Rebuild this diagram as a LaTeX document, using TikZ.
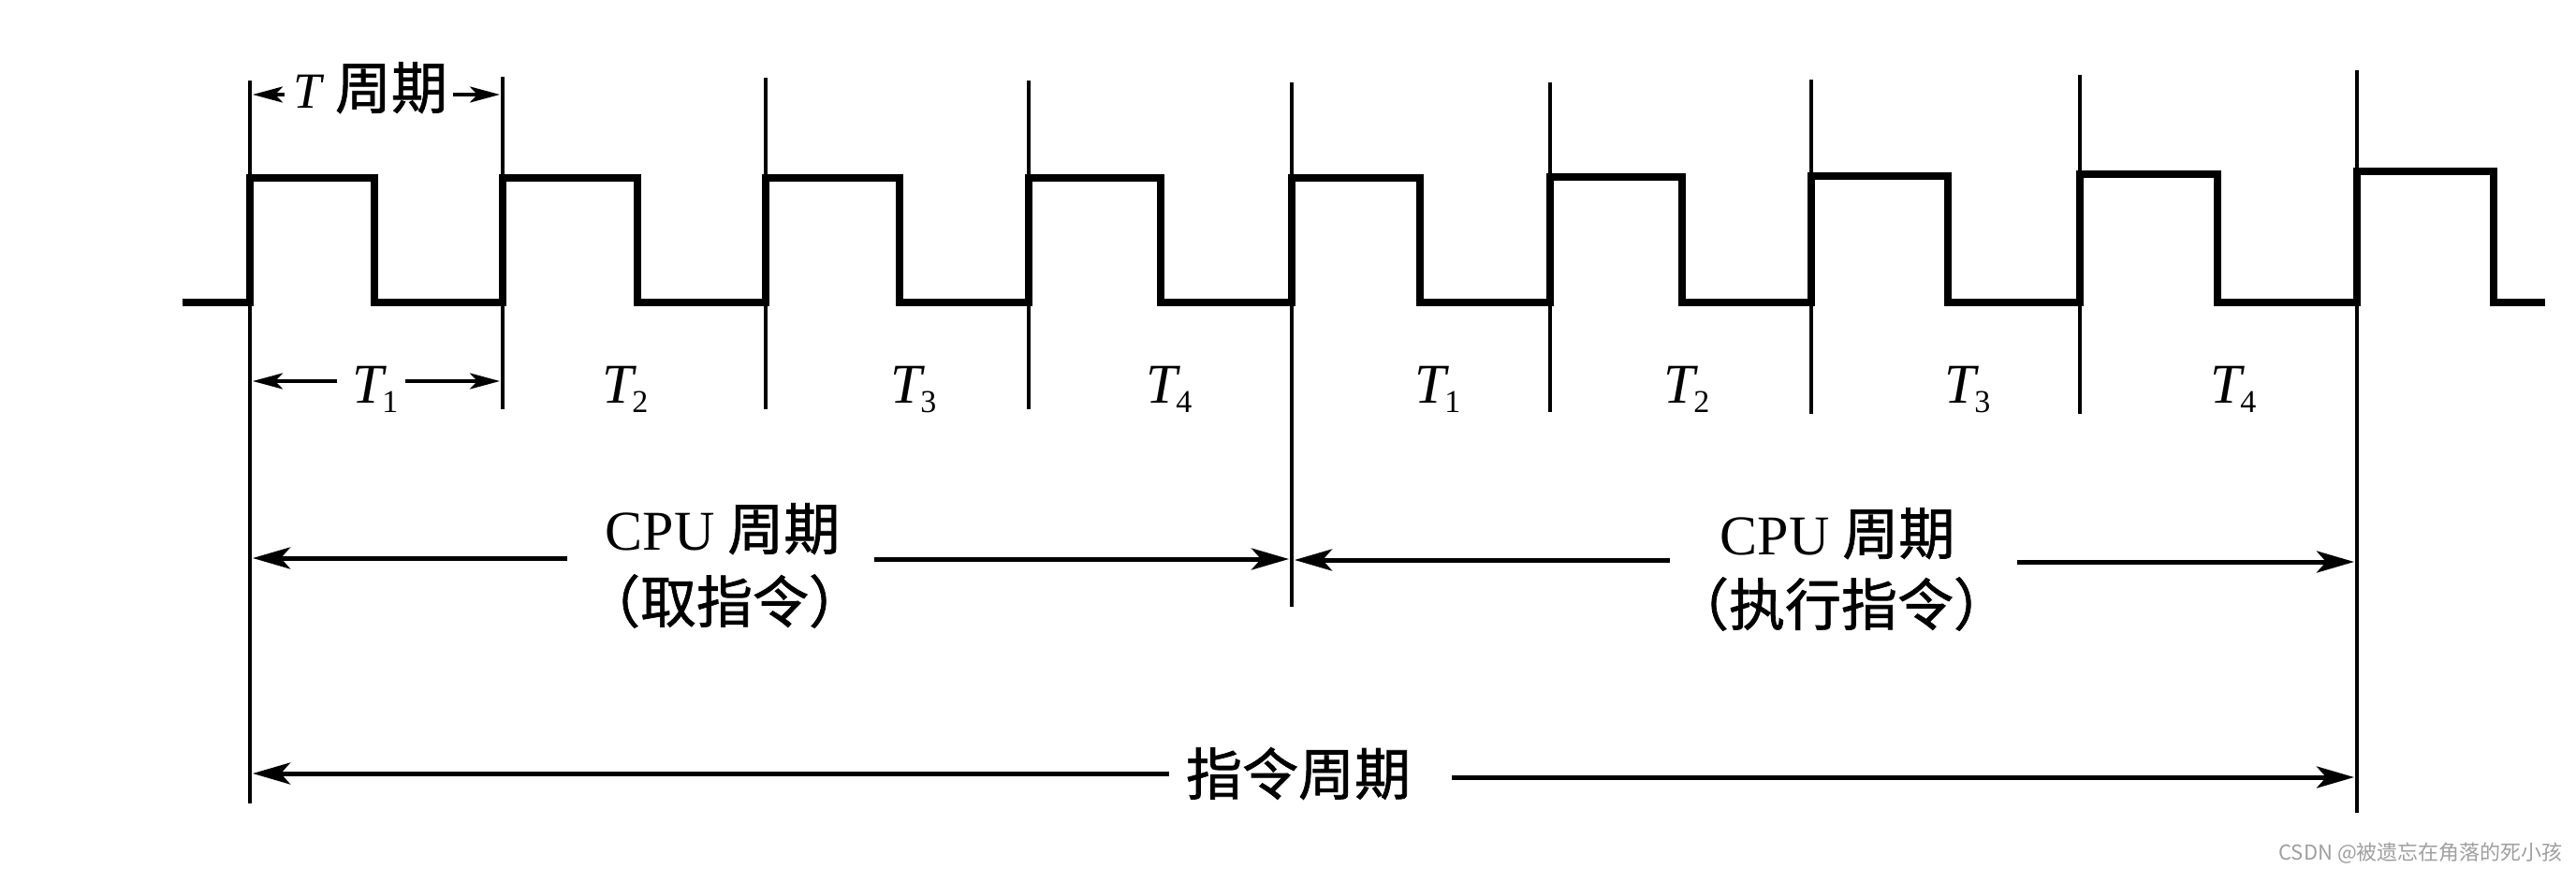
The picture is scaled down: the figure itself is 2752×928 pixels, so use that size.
\documentclass[tikz,border=0pt]{standalone}
\usepackage{fontspec}
\setmainfont{Liberation Serif}
\newfontfamily\cjk[FakeBold=1.2]{Noto Sans CJK SC}
\newfontfamily\wmfont{Noto Sans CJK SC}
\usetikzlibrary{arrows.meta}
\newcommand\Tsub[1]{\textit{T}\kern-5pt\raisebox{-10pt}{\fontsize{34}{36}\selectfont #1}}
\tikzset{
  wave/.style={line width=8pt, line join=miter},
  tickline/.style={line width=3.5pt},
  dimarrow/.style={line width=5pt, -{Stealth[length=40pt,width=23pt,inset=10pt]}},
  smallarrow/.style={line width=4pt, -{Stealth[length=32pt,width=17pt,inset=8pt]}},
  lbl/.style={inner sep=0pt, font=\fontsize{60}{72}\selectfont},
  tlbl/.style={lbl, anchor=base},
}
\begin{document}
\begin{tikzpicture}[x=1pt,y=-1pt]
\useasboundingbox (0,0) rectangle (2752,928);
\fill[white] (0,0) rectangle (2752,928);

% vertical reference lines
\coordinate (L0t) at (267,86);   \coordinate (L0b) at (267,858);
\coordinate (L1t) at (537,82);   \coordinate (L1b) at (537,437);
\coordinate (L2t) at (818,83);   \coordinate (L2b) at (818,437);
\coordinate (L3t) at (1099,86);  \coordinate (L3b) at (1099,437);
\coordinate (L4t) at (1380,88);  \coordinate (L4b) at (1380,648);
\coordinate (L5t) at (1656,88);  \coordinate (L5b) at (1656,440);
\coordinate (L6t) at (1935,85);  \coordinate (L6b) at (1935,442);
\coordinate (L7t) at (2222,80);  \coordinate (L7b) at (2222,442);
\coordinate (L8t) at (2518,75);  \coordinate (L8b) at (2518,868);
\foreach \i in {0,...,8} { \draw[tickline] (L\i t) -- (L\i b); }

% clock waveform
\draw[wave] (195,323) -- (267,323) -- (267,190) -- (400,190) -- (400,323)
  -- (537,323) -- (537,190) -- (681,190) -- (681,323)
  -- (818,323) -- (818,190) -- (961,190) -- (961,323)
  -- (1099,323) -- (1099,190) -- (1240,190) -- (1240,323)
  -- (1380,323) -- (1380,190) -- (1517,190) -- (1517,323)
  -- (1656,323) -- (1656,189) -- (1797,189) -- (1797,323)
  -- (1935,323) -- (1935,188) -- (2081,188) -- (2081,323)
  -- (2222,323) -- (2222,186) -- (2369,186) -- (2369,323)
  -- (2518,323) -- (2518,183) -- (2664,183) -- (2664,323) -- (2719,323);

% T period label
\node[tlbl] (tper) at (396,116) {{\fontsize{54}{58}\selectfont\itshape T}\hspace{14pt}{\cjk 周期}};
\coordinate (tpa) at (304,101); \coordinate (tpb) at (270,101);
\coordinate (tpc) at (484,101); \coordinate (tpd) at (534,101);
\draw[smallarrow] (tpa) -- (tpb);
\draw[smallarrow] (tpc) -- (tpd);

% T1 with arrows
\node[tlbl] (ta1) at (401,430) {\Tsub{1}};
\coordinate (t1a) at (360,407); \coordinate (t1b) at (270,407);
\coordinate (t1c) at (433,407); \coordinate (t1d) at (534,407);
\draw[smallarrow] (t1a) -- (t1b);
\draw[smallarrow] (t1c) -- (t1d);

\node[tlbl] (ta2) at (668,430) {\Tsub{2}};
\node[tlbl] (ta3) at (976,430) {\Tsub{3}};
\node[tlbl] (ta4) at (1249,430) {\Tsub{4}};
\node[tlbl] (tb1) at (1536,430) {\Tsub{1}};
\node[tlbl] (tb2) at (1802,430) {\Tsub{2}};
\node[tlbl] (tb3) at (2102,430) {\Tsub{3}};
\node[tlbl] (tb4) at (2386,430) {\Tsub{4}};

% CPU cycle 1
\node[tlbl] (cpu1) at (772,587) {CPU\hspace{14pt}{\cjk 周期}};
\node[lbl] (cpu1b) at (774,642) {\cjk （取指令）};
\coordinate (c1a) at (606,596); \coordinate (c1b) at (270,596);
\coordinate (c1c) at (934,597); \coordinate (c1d) at (1377,597);
\draw[dimarrow] (c1a) -- (c1b);
\draw[dimarrow] (c1c) -- (c1d);

% CPU cycle 2
\node[tlbl] (cpu2) at (1963,592) {CPU\hspace{14pt}{\cjk 周期}};
\node[lbl] (cpu2b) at (1967,645) {\cjk （执行指令）};
\coordinate (c2a) at (1784,598); \coordinate (c2b) at (1383,598);
\coordinate (c2c) at (2155,600); \coordinate (c2d) at (2515,600);
\draw[dimarrow] (c2a) -- (c2b);
\draw[dimarrow] (c2c) -- (c2d);

% instruction cycle
\node[lbl] (inst) at (1387,826) {\cjk 指令周期};
\coordinate (ia) at (1249,826); \coordinate (ib) at (270,826);
\coordinate (ic) at (1551,830); \coordinate (id) at (2515,830);
\draw[dimarrow] (ia) -- (ib);
\draw[dimarrow] (ic) -- (id);

% watermark
\node[inner sep=0pt, anchor=east, text=gray!75, font=\fontsize{22}{24}\selectfont\wmfont] (wm) at (2738,911) {CSDN @被遗忘在角落的死小孩};
\end{tikzpicture}
\end{document}
